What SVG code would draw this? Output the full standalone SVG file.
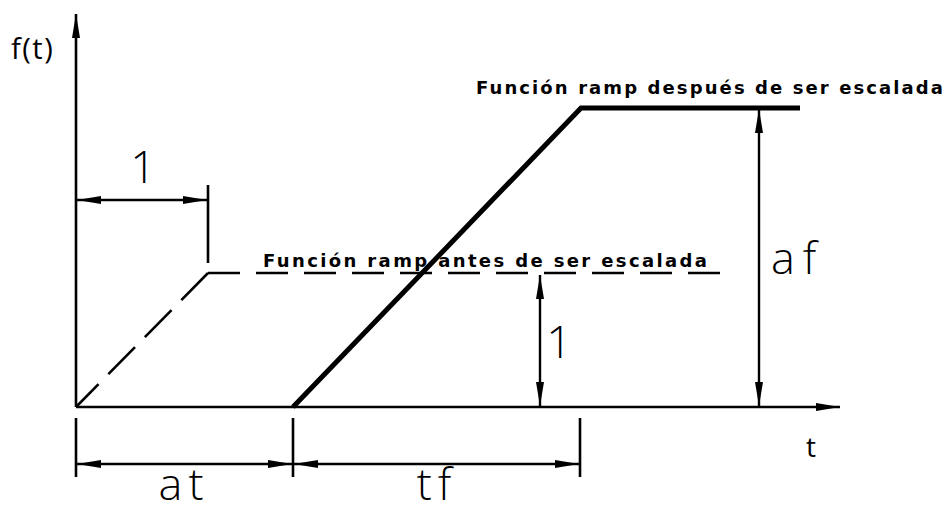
<svg xmlns="http://www.w3.org/2000/svg" width="950" height="513" viewBox="0 0 950 513">
<style>
.thin{stroke:#000;stroke-width:2.6;fill:none}
.thick{stroke:#000;stroke-width:5;fill:none;stroke-linejoin:miter}
.dash{stroke:#000;stroke-width:2.6;fill:none;stroke-dasharray:32 16}
.dim{stroke:#000;stroke-width:2.4;fill:none;marker-start:url(#ah);marker-end:url(#ah)}
.lbl{font-family:"DejaVu Sans","Liberation Sans",sans-serif;font-weight:bold;font-size:18px;fill:#000}
.big{font-family:"Open Sans","Liberation Sans",sans-serif;font-weight:300;font-size:45px;fill:#000}
.mid{font-family:"Open Sans","Liberation Sans",sans-serif;font-weight:400;fill:#000}
</style>
<defs>
<marker id="ah" viewBox="0 0 24 8" refX="24" refY="4" markerWidth="24" markerHeight="8" markerUnits="userSpaceOnUse" orient="auto-start-reverse">
<path d="M0,0 L24,4 L0,8 Z" fill="#000"/>
</marker>
</defs>
<g id="axes">
<line class="thin" x1="76" y1="407" x2="76" y2="14" marker-end="url(#ah)"/>
<line class="thin" x1="76" y1="407" x2="840" y2="407" marker-end="url(#ah)"/>
<text class="mid" x="11" y="59" font-size="29" letter-spacing="1.5">f(t)</text>
<text class="mid" x="806" y="457" font-size="28">t</text>
</g>
<g id="ramp-before">
<line class="thin" x1="208" y1="273" x2="76" y2="407" style="stroke-dasharray:38 14"/>
<line class="dash" x1="208" y1="273" x2="720" y2="273"/>
<text class="lbl" x="263" y="267" textLength="444" lengthAdjust="spacing">Función ramp antes de ser escalada</text>
</g>
<g id="ramp-after">
<polyline class="thick" points="293,407 581,108 800,108"/>
<text class="lbl" x="476" y="94" textLength="467" lengthAdjust="spacing">Función ramp después de ser escalada</text>
</g>
<g id="connectors">
<line class="thin" x1="208" y1="185" x2="208" y2="263"/>
<line class="dim" x1="77" y1="200" x2="207" y2="200"/>
<line class="dim" x1="540" y1="275" x2="540" y2="406"/>
<line class="dim" x1="759" y1="109" x2="759" y2="406"/>
<line class="thin" x1="76" y1="418" x2="76" y2="477"/>
<line class="thin" x1="293" y1="418" x2="293" y2="477"/>
<line class="thin" x1="580" y1="418" x2="580" y2="477"/>
<line class="dim" x1="77" y1="464" x2="292" y2="464"/>
<line class="dim" x1="294" y1="464" x2="579" y2="464"/>
</g>
<g id="dim-labels">
<text class="big" x="143" y="183" text-anchor="middle">1</text>
<text class="big" x="559" y="358" text-anchor="middle">1</text>
<text class="big" x="771" y="274" letter-spacing="8">af</text>
<text class="big" x="184" y="500" text-anchor="middle" letter-spacing="6" font-size="41">at</text>
<text class="big" x="437" y="500" text-anchor="middle" letter-spacing="6" font-size="41">tf</text>
</g>
</svg>
